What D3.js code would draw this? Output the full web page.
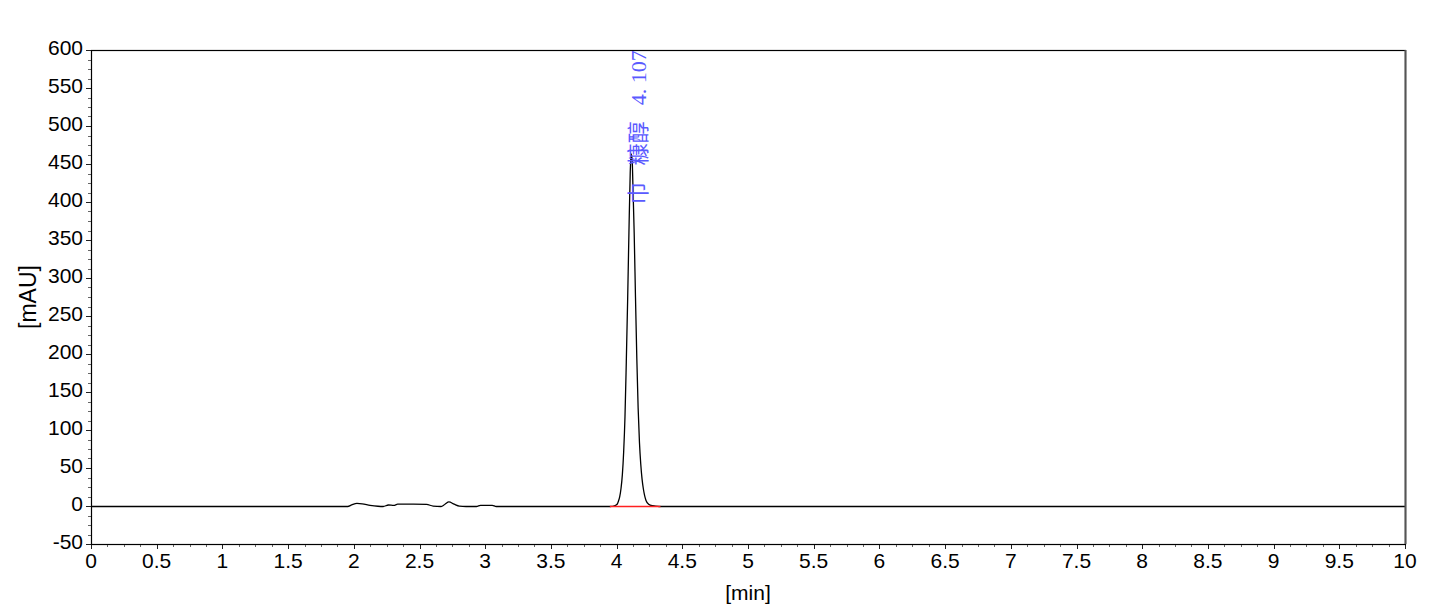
<!DOCTYPE html>
<html>
<head>
<meta charset="utf-8">
<script src="https://cdn.jsdelivr.net/npm/d3@7"></script>
<style>
  html, body { margin: 0; padding: 0; background: #fff; }
  svg { display: block; }
  .tick-label { font-family: "Liberation Sans", Arial, sans-serif; font-size: 21px; fill: #000; }
  .axis-title { font-family: "Liberation Sans", Arial, sans-serif; font-size: 21px; fill: #000; }
  .peak-label { font-family: "Liberation Serif", "Noto Sans CJK SC", serif; font-size: 22px; fill: #5a5aff; }
</style>
</head>
<body>
<svg id="chrom"></svg>
<script>
  // chromatogram trace
  var timeMin = [0, 1.95, 1.98, 2.02, 2.06, 2.12, 2.18, 2.22, 2.26, 2.30, 2.33, 2.45, 2.55, 2.60, 2.66,
    2.69, 2.72, 2.76, 2.80, 2.85, 2.93, 2.96, 3.05, 3.08, 3.95, 3.98, 4.00, 4.01, 4.02, 4.03, 4.04,
    4.05, 4.06, 4.07, 4.08, 4.09, 4.10, 4.107, 4.115, 4.12, 4.13, 4.14, 4.15, 4.16, 4.17, 4.18,
    4.19, 4.20, 4.21, 4.22, 4.24, 4.27, 4.32, 10];
  var signalMau = [0, 0, 2, 4, 3.5, 1.5, 0.3, 0, 2, 1.5, 3, 3.2, 2.8, 0.5, 0,
    3, 6, 3, 0.5, 0, 0, 1.5, 1.5, 0, 0, 1, 3, 7, 13, 24, 42,
    72, 118, 190, 270, 360, 440, 464, 455, 425, 360, 275, 195, 130, 85, 56,
    36, 23, 14, 8, 3, 1, 0, 0];

  // integration baseline under the peak
  var baseTimes = [3.945, 4.33];
  var baseValues = [0, 0];

  var peakTime = 4.107;
  var peakName = ["巾", "糠醇"];
  var peakRt = ["4.", "107"];

  var xTicks = d3.range(0, 10.001, 0.5);
  var yTicks = d3.range(-50, 600.001, 50);
  var xTickLabels = xTicks.map(function(d) { return String(+d.toFixed(1)); });
  var yTickLabels = yTicks.map(function(d) { return String(d); });

  var width = 1440;
  var height = 612;
  var plotL = 91, plotR = 1405, plotT = 50, plotB = 544;

  var svg = d3.select("#chrom")
    .attr("width", width)
    .attr("height", height);

  var x = d3.scaleLinear().domain([0, 10]).range([plotL, plotR]);
  var y = d3.scaleLinear().domain([-50, 600]).range([plotB, plotT]);

  // minor ticks
  var xMinor = d3.range(0, 10.001, 0.125);
  var yMinor = d3.range(-50, 600.001, 12.5);
  var isMajorX = d => Math.abs(d * 2 - Math.round(d * 2)) < 1e-6;

  var g = svg.append("g");

  g.selectAll(".xminor")
    .data(xMinor)
    .enter()
    .append("line")
    .attr("x1", d => Math.round(x(d)) + 0.5)
    .attr("x2", d => Math.round(x(d)) + 0.5)
    .attr("y1", plotB)
    .attr("y2", d => plotB + (isMajorX(d) ? 5 : 3))
    .style("stroke", d => (isMajorX(d) ? "#222" : "#666"))
    .style("stroke-width", 1);

  g.selectAll(".yminor")
    .data(yMinor)
    .enter()
    .append("line")
    .attr("y1", d => Math.round(y(d)) + 0.5)
    .attr("y2", d => Math.round(y(d)) + 0.5)
    .attr("x1", plotL)
    .attr("x2", d => plotL - (d % 50 === 0 ? 5 : 3))
    .style("stroke", d => (d % 50 === 0 ? "#222" : "#666"))
    .style("stroke-width", 1);

  g.selectAll(".xlab")
    .data(xTicks)
    .enter()
    .append("text")
    .attr("class", "tick-label")
    .attr("x", d => x(d))
    .attr("y", plotB + 24)
    .attr("text-anchor", "middle")
    .text((d, i) => xTickLabels[i]);

  g.selectAll(".ylab")
    .data(yTicks)
    .enter()
    .append("text")
    .attr("class", "tick-label")
    .attr("x", plotL - 8)
    .attr("y", d => y(d) + 5)
    .attr("text-anchor", "end")
    .text((d, i) => yTickLabels[i]);

  svg.append("text")
    .attr("class", "axis-title")
    .attr("x", (plotL + plotR) / 2)
    .attr("y", 600)
    .attr("text-anchor", "middle")
    .text("[min]");

  svg.append("text")
    .attr("class", "axis-title")
    .style("font-size", "23px")
    .attr("transform", "translate(36," + ((plotT + plotB) / 2) + ") rotate(-90)")
    .attr("text-anchor", "middle")
    .text("[mAU]");

  // trace, shifted half a pixel so the flat baseline sits on one pixel row
  var trace = svg.append("g").attr("transform", "translate(0.5,0.5)");
  var points = timeMin.map((t, i) => [t, signalMau[i]]);
  var line = d3.line()
    .x(d => x(d[0]))
    .y(d => y(d[1]))
    .curve(d3.curveMonotoneX);

  trace.append("path")
    .datum(points)
    .attr("d", line)
    .attr("fill", "none")
    .attr("stroke", "#000")
    .attr("stroke-width", 1.3);

  trace.append("path")
    .datum(baseTimes.map((t, i) => [t, baseValues[i]]))
    .attr("d", d3.line().x(d => x(d[0])).y(d => y(d[1])))
    .attr("fill", "none")
    .attr("stroke", "#ff2020")
    .attr("stroke-width", 1.3);

  // frame
  svg.append("rect")
    .attr("x", plotL + 0.5)
    .attr("y", plotT + 0.5)
    .attr("width", plotR - plotL)
    .attr("height", plotB - plotT)
    .attr("fill", "none")
    .attr("stroke", "#000")
    .attr("stroke-width", 1.2);

  svg.append("line")
    .attr("x1", plotR + 0.5).attr("x2", plotR + 0.5)
    .attr("y1", plotT).attr("y2", plotB)
    .style("stroke", "#555")
    .style("stroke-width", 2);

  // peak label, vertical, reading upward
  var label = svg.append("text")
    .attr("class", "peak-label")
    .attr("transform", "translate(" + (x(peakTime) + 15) + "," + y(397) + ") rotate(-90)");

  label.append("tspan").attr("x", 0).text(peakName[0]);
  label.append("tspan").attr("x", 39).text(peakName[1]);
  label.append("tspan").attr("x", 99).text(peakRt[0]);
  label.append("tspan").attr("x", 121).text(peakRt[1]);
</script>
</body>
</html>
